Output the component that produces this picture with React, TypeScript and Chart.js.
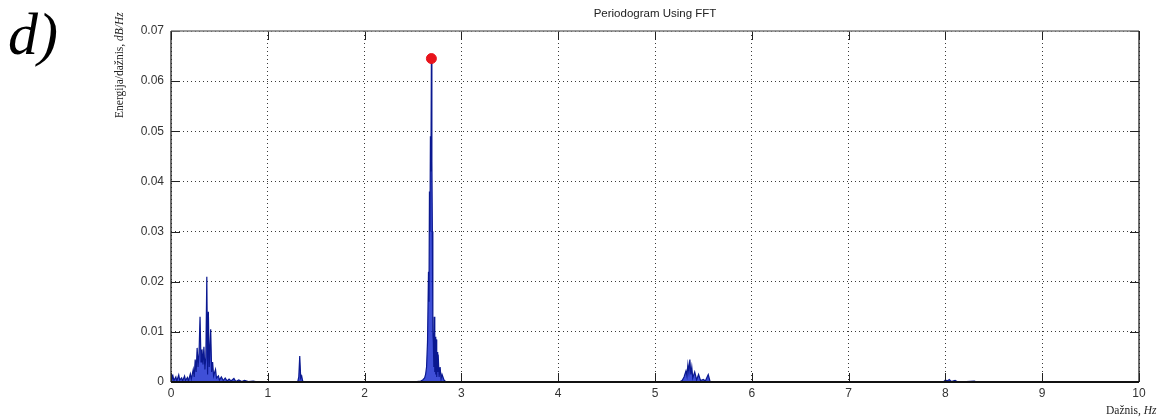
import React, { useEffect, useRef } from "react";
import { Chart, registerables } from "chart.js";

Chart.register(...registerables);

// Low-frequency band (0 – 1.4 Hz)
const lowFreq = [
  0.0, 0.01, 0.02, 0.03, 0.05, 0.06, 0.08, 0.09, 0.11, 0.12, 0.14, 0.15, 0.17, 0.18,
  0.2, 0.21, 0.23, 0.24, 0.25, 0.26, 0.27, 0.28, 0.29, 0.3, 0.31, 0.32, 0.33, 0.34,
  0.35, 0.36, 0.37, 0.378, 0.386, 0.395, 0.41, 0.42, 0.43, 0.44, 0.46, 0.47, 0.49,
  0.5, 0.52, 0.54, 0.56, 0.58, 0.6, 0.62, 0.65, 0.67, 0.7, 0.73, 0.76, 0.8, 0.85,
  0.9, 0.95, 1.0, 1.2, 1.31, 1.32, 1.33, 1.34, 1.35, 1.36, 1.38,
];
const lowPower = [
  0.0015, 0.0005, 0.0012, 0.0003, 0.001, 0.0002, 0.0014, 0.0004, 0.0008, 0.0002, 0.0012,
  0.0003, 0.0009, 0.0002, 0.0016, 0.0006, 0.0025, 0.001, 0.0045, 0.002, 0.0068, 0.003,
  0.006, 0.013, 0.004, 0.0065, 0.0035, 0.007, 0.0025, 0.005, 0.021, 0.0015, 0.014,
  0.003, 0.0105, 0.002, 0.004, 0.0012, 0.0025, 0.0008, 0.0012, 0.0004, 0.001, 0.0003,
  0.0008, 0.0002, 0.0006, 0.0002, 0.0007, 0.0001, 0.0004, 0.0001, 0.0003, 0.0001,
  0.0002, 0.0, 0.0001, 0.0, 0.0, 0.0001, 0.001, 0.0052, 0.0008, 0.0012, 0.0002, 0.0,
];

// Main peak cluster (around 2.7 Hz)
const peakFreq = [
  2.5, 2.58, 2.6, 2.62, 2.63, 2.64, 2.65, 2.66, 2.665, 2.67, 2.675, 2.68, 2.685, 2.69,
  2.695, 2.7, 2.705, 2.71, 2.715, 2.72, 2.725, 2.73, 2.735, 2.74, 2.745, 2.75, 2.755,
  2.76, 2.77, 2.78, 2.79, 2.8, 2.82, 2.84,
];
const peakPower = [
  0.0, 0.0002, 0.0004, 0.0008, 0.0015, 0.003, 0.008, 0.022, 0.016, 0.038, 0.03, 0.049,
  0.042, 0.0645, 0.044, 0.03, 0.01, 0.008, 0.003, 0.013, 0.002, 0.009, 0.0015, 0.0085,
  0.001, 0.006, 0.002, 0.0055, 0.001, 0.003, 0.0006, 0.0015, 0.0004, 0.0,
];

// Second harmonic cluster (around 5.35 Hz) and the tail up to 10 Hz
const harmFreq = [
  5.25, 5.28, 5.3, 5.32, 5.33, 5.34, 5.35, 5.36, 5.37, 5.38, 5.39, 5.41, 5.43, 5.45,
  5.47, 5.5, 5.52, 5.55, 5.57, 7.98, 8.0, 8.02, 8.04, 8.06, 8.1, 8.13, 8.3, 8.32, 10.0,
];
const harmPower = [
  0.0, 0.0003, 0.001, 0.0022, 0.0012, 0.0035, 0.002, 0.0045, 0.0015, 0.003, 0.0008,
  0.002, 0.0004, 0.0015, 0.0003, 0.0005, 0.0002, 0.0015, 0.0, 0.0, 0.0004, 0.0002,
  0.0005, 0.0001, 0.0003, 0.0, 0.0002, 0.0, 0.0,
];

const maxFreq = [2.69];
const maxPower = [0.0645];

const xTicks = [0, 1, 2, 3, 4, 5, 6, 7, 8, 9, 10];
const yTicks = [0, 0.01, 0.02, 0.03, 0.04, 0.05, 0.06, 0.07];

const W = 1164;
const H = 419;
const LEFT = 171;
const RIGHT = 1139;
const TOP = 31;
const BOTTOM = 382;

const boxPlugin = {
  id: "matlabBox",
  afterDatasetsDraw(chart: any) {
    const { ctx, chartArea, scales } = chart;
    const { left, right, top, bottom } = chartArea;
    const tl = 9;
    ctx.save();
    ctx.lineWidth = 1;
    ctx.strokeStyle = "#222";
    ctx.beginPath();
    for (const v of xTicks) {
      const x = Math.round(scales.x.getPixelForValue(v)) + 0.5;
      ctx.moveTo(x, bottom);
      ctx.lineTo(x, bottom - tl);
      ctx.moveTo(x, top);
      ctx.lineTo(x, top + tl);
    }
    for (const v of yTicks) {
      const y = Math.round(scales.y.getPixelForValue(v)) + 0.5;
      ctx.moveTo(left, y);
      ctx.lineTo(left + tl, y);
      ctx.moveTo(right, y);
      ctx.lineTo(right - tl, y);
    }
    ctx.stroke();
    ctx.lineWidth = 1.6;
    ctx.strokeStyle = "#7a7a7a";
    ctx.beginPath();
    ctx.moveTo(left, top);
    ctx.lineTo(right, top);
    ctx.stroke();
    ctx.strokeStyle = "#222";
    ctx.lineWidth = 1.3;
    ctx.beginPath();
    ctx.moveTo(right, top);
    ctx.lineTo(right, bottom);
    ctx.moveTo(left, top);
    ctx.lineTo(left, bottom);
    ctx.stroke();
    ctx.lineWidth = 2;
    ctx.strokeStyle = "#111";
    ctx.beginPath();
    ctx.moveTo(left, bottom);
    ctx.lineTo(right, bottom);
    ctx.stroke();
    ctx.restore();
  },
};

function buildPoints(fs: number[], ps: number[]) {
  return fs.map((f, i) => ({ x: f, y: ps[i] }));
}

export default function App() {
  const ref = useRef<HTMLCanvasElement | null>(null);

  useEffect(() => {
    if (!ref.current) return;
    const spectrum = [
      ...buildPoints(lowFreq, lowPower),
      ...buildPoints(peakFreq, peakPower),
      ...buildPoints(harmFreq, harmPower),
    ];
    const chart = new Chart(ref.current, {
      type: "scatter",
      data: {
        datasets: [
          {
            data: buildPoints(maxFreq, maxPower),
            pointRadius: 5,
            pointBackgroundColor: "#e8141c",
            pointBorderColor: "#e8141c",
            showLine: false,
            order: 0,
          },
          {
            data: spectrum,
            showLine: true,
            borderColor: "#0a1890",
            borderWidth: 1.2,
            pointRadius: 0,
            fill: "origin",
            backgroundColor: "rgba(15,35,205,0.8)",
            tension: 0,
            order: 1,
          },
        ],
      },
      options: {
        animation: false,
        responsive: false,
        events: [],
        layout: { padding: { left: 0, right: W - RIGHT, top: TOP, bottom: 0 } },
        plugins: { legend: { display: false }, tooltip: { enabled: false }, title: { display: false } },
        scales: {
          x: {
            type: "linear",
            min: 0,
            max: 10,
            afterFit(scale: any) {
              scale.height = H - BOTTOM;
            },
            afterBuildTicks(scale: any) {
              scale.ticks = xTicks.map((v) => ({ value: v }));
            },
            ticks: {
              padding: 4,
              color: "#333",
              font: { family: "Liberation Sans", size: 12 },
              callback: (v: any) => String(v),
              maxRotation: 0,
            },
            grid: { color: "#3a3a3a", lineWidth: 1, drawTicks: false },
            border: { display: false, dash: [1, 3] },
          },
          y: {
            type: "linear",
            min: 0,
            max: 0.07,
            afterFit(scale: any) {
              scale.width = LEFT;
            },
            afterBuildTicks(scale: any) {
              scale.ticks = yTicks.map((v) => ({ value: v }));
            },
            ticks: {
              padding: 7,
              color: "#333",
              font: { family: "Liberation Sans", size: 12 },
              callback: (v: any) => (v === 0 ? "0" : Number(v).toFixed(2)),
            },
            grid: { color: "#3a3a3a", lineWidth: 1, drawTicks: false },
            border: { display: false, dash: [1, 3] },
          },
        },
      },
      plugins: [boxPlugin],
    } as any);
    return () => chart.destroy();
  }, []);

  return (
    <div
      style={{
        position: "absolute",
        left: 0,
        top: 0,
        width: W,
        height: H,
        background: "#fff",
        overflow: "hidden",
      }}
    >
      <canvas ref={ref} width={W} height={H} style={{ position: "absolute", left: 0, top: 0 }} />
      <div
        style={{
          position: "absolute",
          left: 8,
          top: -6,
          fontFamily: "Liberation Serif",
          fontStyle: "italic",
          fontSize: 60,
          color: "#000",
          lineHeight: "80px",
        }}
      >
        d)
      </div>
      <div
        style={{
          position: "absolute",
          left: LEFT,
          width: RIGHT - LEFT,
          top: 6,
          textAlign: "center",
          fontFamily: "Liberation Sans",
          fontSize: 11.5,
          color: "#222",
          lineHeight: "14px",
        }}
      >
        Periodogram Using FFT
      </div>
      <div
        style={{
          position: "absolute",
          left: 113,
          top: 118,
          transformOrigin: "0 0",
          transform: "rotate(-90deg)",
          whiteSpace: "nowrap",
          fontFamily: "Liberation Serif",
          fontSize: 11.5,
          color: "#222",
          lineHeight: "13px",
        }}
      >
        Energija/dažnis, <i>dB/Hz</i>
      </div>
      <div
        style={{
          position: "absolute",
          left: 1106,
          top: 404,
          whiteSpace: "nowrap",
          fontFamily: "Liberation Serif",
          fontSize: 11.5,
          color: "#222",
          lineHeight: "13px",
        }}
      >
        Dažnis, <i>Hz</i>
      </div>
    </div>
  );
}
